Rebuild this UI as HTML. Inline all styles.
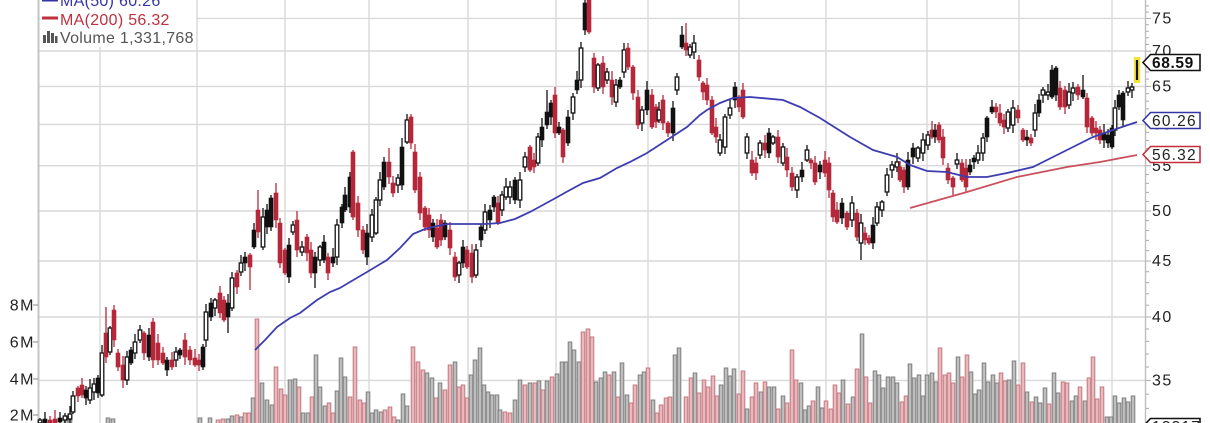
<!DOCTYPE html>
<html><head><meta charset="utf-8"><style>
html,body{margin:0;padding:0;background:#fff;}
svg{display:block;}
text{font-family:"Liberation Sans",Arial,sans-serif;}
</style></head><body>
<svg id="s" xmlns="http://www.w3.org/2000/svg" width="1210" height="423" viewBox="0 0 1210 423">
<rect x="0" y="0" width="1210" height="423" fill="#fff"/>
<g stroke="#d9d9d9" stroke-width="1.4" fill="none">
<line x1="38" y1="18.4" x2="1145" y2="18.4"/>
<line x1="38" y1="51" x2="1145" y2="51"/>
<line x1="38" y1="86.4" x2="1145" y2="86.4"/>
<line x1="38" y1="124.4" x2="1145" y2="124.4"/>
<line x1="38" y1="165.7" x2="1145" y2="165.7"/>
<line x1="38" y1="211" x2="1145" y2="211"/>
<line x1="38" y1="261" x2="1145" y2="261"/>
<line x1="38" y1="317" x2="1145" y2="317"/>
<line x1="38" y1="380.4" x2="1145" y2="380.4"/>
<line x1="100" y1="0" x2="100" y2="423"/>
<line x1="197" y1="0" x2="197" y2="423"/>
<line x1="285" y1="0" x2="285" y2="423"/>
<line x1="369" y1="0" x2="369" y2="423"/>
<line x1="468" y1="0" x2="468" y2="423"/>
<line x1="556" y1="0" x2="556" y2="423"/>
<line x1="648" y1="0" x2="648" y2="423"/>
<line x1="739" y1="0" x2="739" y2="423"/>
<line x1="826" y1="0" x2="826" y2="423"/>
<line x1="927" y1="0" x2="927" y2="423"/>
<line x1="1019" y1="0" x2="1019" y2="423"/>
<line x1="1112" y1="0" x2="1112" y2="423"/>
</g>
<line x1="38.5" y1="0" x2="38.5" y2="423" stroke="#c4c4c4" stroke-width="2"/>
<line x1="1145.5" y1="0" x2="1145.5" y2="423" stroke="#bdbdbd" stroke-width="1.4"/>
<g id="ticks" stroke="#aaa" stroke-width="1"></g>
<g id="vol"></g>
<g id="cdl"></g>
<polyline fill="none" stroke="#3d3db0" stroke-width="1.8" points="255,350 265,340 277,327 290,318 300,313 317,300 330,292 340,288 350,282 367,272 387,260 400,248 413,234 425,229 433,227 447,224 470,224 485,224 500,223 515,219 530,212 552,200 570,190 583,183 600,178 617,168 630,162 647,153 667,140 687,127 700,115 707,110 720,103 733,98 750,97 783,100 800,107 820,118 850,137 873,150 897,157 910,165 927,171 947,172 967,177 987,177 1007,173 1033,167 1053,157 1073,147 1093,137 1113,130 1137,122"/>
<polyline fill="none" stroke="#c9505c" stroke-width="1.7" points="910,208 967,192 1017,177 1067,167 1100,162 1137,155"/>
<!-- legend -->
<rect x="40" y="0" width="156" height="47" fill="#fff"/>
<rect x="42" y="-2" width="16" height="3.5" fill="#3535a8"/>
<text x="60" y="6" font-size="16" letter-spacing="0.3" fill="#3535a8">MA(50) 60.26</text>
<rect x="42" y="16.5" width="16" height="3" fill="#c0303e"/>
<text x="60" y="25" font-size="16" letter-spacing="0.3" fill="#c0303e">MA(200) 56.32</text>
<g fill="#555"><rect x="43" y="35" width="3" height="8"/><rect x="47" y="31" width="3" height="12"/><rect x="51" y="33" width="3" height="10"/><rect x="55" y="36" width="2.5" height="7"/></g>
<text x="60" y="43" font-size="16" letter-spacing="0.3" fill="#555">Volume 1,331,768</text>
<!-- price labels -->
<g font-size="16" letter-spacing="1.5" fill="#222">
<text x="1152" y="23.5">75</text>
<text x="1152" y="56">70</text>
<text x="1152" y="91.5">65</text>
<text x="1152" y="129.5">60</text>
<text x="1152" y="171">55</text>
<text x="1152" y="216">50</text>
<text x="1152" y="266">45</text>
<text x="1152" y="322">40</text>
<text x="1152" y="385.5">35</text>
</g>
<!-- volume labels -->
<g font-size="16" letter-spacing="1.5" fill="#222" text-anchor="end">
<text x="35" y="310.5">8M</text>
<text x="35" y="347.5">6M</text>
<text x="35" y="384.5">4M</text>
<text x="35" y="420.5">2M</text>
</g>
<g stroke="#888" stroke-width="1">
<line x1="33" y1="305" x2="38" y2="305"/><line x1="33" y1="342" x2="38" y2="342"/><line x1="33" y1="379" x2="38" y2="379"/><line x1="33" y1="415" x2="38" y2="415"/>
</g>
<!-- value boxes -->
<polygon points="1143,62.5 1150.5,54.5 1200,54.5 1200,70.5 1150.5,70.5" fill="#fff" stroke="#111" stroke-width="1.6"/>
<text x="1152" y="68" font-size="15.5" font-weight="bold" letter-spacing="0.6" fill="#111">68.59</text>
<polygon points="1143,120.5 1150.5,112.5 1200,112.5 1200,128.5 1150.5,128.5" fill="#fff" stroke="#3535a8" stroke-width="1.6"/>
<text x="1152" y="126" font-size="15.5" letter-spacing="1.2" fill="#222">60.26</text>
<polygon points="1143,154.5 1150.5,146.5 1200,146.5 1200,162.5 1150.5,162.5" fill="#fff" stroke="#c0303e" stroke-width="1.6"/>
<text x="1152" y="160" font-size="15.5" letter-spacing="1.2" fill="#222">56.32</text>
<polygon points="1143,426.5 1150.5,418.5 1200,418.5 1200,434 1150.5,434" fill="#fff" stroke="#111" stroke-width="1.6"/>
<text x="1152" y="432" font-size="15.5" letter-spacing="1.2" fill="#222">13317</text>
</svg>
<script>
(function(){
var NS="http://www.w3.org/2000/svg";
function el(t,a,p){var e=document.createElementNS(NS,t);for(var k in a)e.setAttribute(k,a[k]);p.appendChild(e);return e;}
var tk=document.getElementById('ticks');
for(var p=33;p<=77;p++){var y=2069.2-475*Math.log(p);el('line',{x1:1146,y1:y,x2:(p%5==0?1151:1149),y2:y},tk);}
var vg=document.getElementById('vol');
var V="55p421 66g420 70g420 108g418 113g419 200g418 210g418 218p420 223p419 228g419 232g416 237p415 241g417 245p413 249p413 253g398 257p319 262g383 267g400 272g405 276p367 281p389 285p395 290g380 295g379 299p387 303g413 308g413 312p397 316g355 320g387 325g406 329p403 333p413 337g391 341g358 345g377 350p397 355p347 360p400 364p403 368g392 372g413 376g410 381g412 385p410 390p407 394p417 398g420 403g394 407g406 413p347 418p362 423p370 427g373 432g378 436p398 440g383 445p390 450p365 455g362 459p387 463p385 467p398 471g375 475g360 480g348 484g385 488g392 492g395 497g395 500g410 505p412 510p413 515g400 520g380 525p385 530g383 535p383 539g381 543p390 547g381 552p377 557g374 562g362 566g362 570g342 574g350 579g362 583p332 588p329 592p337 596g382 601g378 605g372 609p375 614g372 618p397 622g363 627g395 631p403 635p385 640g375 644g372 648p368 653g400 657p413 661p405 666p398 670p397 675g355 679g348 686p397 691p378 695g373 699p393 704p380 708p387 713p376 717p396 721g385 726g368 730g376 734g369 739p394 743p371 747g409 752p397 756p383 761g392 765p382 769g387 774g387 778p409 783g396 787p403 792p350 796p380 801g383 805g410 809g406 813p401 818g387 822g408 826p401 831p409 835p385 839p393 843g380 848p404 853g397 857p369 862g334 866p377 870p403 875g371 879g375 883g388 888g377 893g377 897g383 902p402 906p396 910g364 914g378 919g375 923g396 927g375 932g373 936g382 940p348 945p375 949p373 953p383 958g357 962p377 967p355 971g372 975g394 979g390 984g363 988g382 993g375 997g383 1001p373 1005p381 1009g380 1014g361 1018p385 1023p363 1027g392 1032p402 1036g397 1040g403 1045g388 1049p404 1054g373 1058g393 1063p382 1067p383 1072g401 1076g396 1080p387 1085g401 1089p378 1093p357 1097p399 1102p387 1107g417 1111g417 1115g396 1119g403 1124g398 1128g402 1133g396".split(' ');
V.forEach(function(s){var m=s.match(/^(\d+)([gp])(\d+)$/);if(!m)return;var x=+m[1],t=+m[3],g=m[2]=='g';
el('rect',{x:x-1.8,y:t,width:3.6,height:428-t,fill:g?'#bebebe':'#e8babd',stroke:g?'#7e7e7e':'#c27880','stroke-width':1},vg);});
var cg=document.getElementById('cdl');
var C="40,420,423,h;45,419,423,b;50,420,423,r;55,419,423,r;60,418,422,b;65,416,420,h;70,414,419,h;73,396,412,h;78,388,396,r;82,385,395,r;86,390,398,b;90,388,400,h;94,384,392,h;98,378,393,b;102,353,395,h;106,333,357,r,307;110,328,352,h;114,310,340,r,305;118,353,367,r;123,365,380,r;127,357,380,h;131,350,363,b;135,342,353,h;140,330,340,h;144,333,353,r;149,335,357,b;153,322,360,r;158,343,360,r;163,353,363,r;167,360,370,b;172,360,367,r;176,352,360,h;180,350,355,b;185,340,357,r;190,350,360,r;195,358,365,r;199,360,365,r;203,347,367,b;206,312,340,h;211,303,317,b;215,300,308,h;220,293,313,r;224,300,320,r;228,303,317,b,,333;232,278,308,h;237,273,287,r;241,263,272,h;245,257,263,b;250,255,267,r,,290;254,230,247,b;258,210,232,r,190;263,217,247,h;267,210,227,b;271,198,227,b;276,193,220,r,183;280,223,263,r;285,250,273,r;289,245,277,b;293,225,232,h;297,220,250,r;302,247,252,h;307,237,253,r;311,250,273,r;315,257,273,b,,288;320,247,260,h;324,242,260,b;328,257,273,r;333,257,263,b;337,225,257,h;342,207,223,b;345,195,210,b;350,177,207,b;353,152,217,r;358,203,230,r;363,230,250,r;367,233,257,b;372,215,237,h;376,200,233,h;380,180,200,h;384,162,187,b;389,162,177,r,148;393,183,193,r;398,178,185,h;402,147,185,b;407,120,142,h;411,117,143,r;415,152,190,r;420,177,213,r;425,208,227,r;429,215,230,r;433,223,237,b;437,228,247,r;441,220,240,r;445,223,237,b;450,230,248,r;455,257,277,r;459,263,275,h;463,247,263,b;467,250,267,r;472,253,277,r;476,250,275,h;481,227,240,b;485,212,230,h;490,210,220,b;494,197,207,b;498,203,223,r;502,195,210,h;506,187,197,h;510,187,197,h;515,180,200,b;520,180,200,h;525,157,167,h;530,147,170,r;534,160,167,r;538,137,163,h;542,127,140,b;547,112,125,b,90;551,103,117,b;555,95,133,r;559,127,133,b;563,130,157,r;568,117,143,b;573,97,113,h;577,80,90,b;581,48,80,h;585,3,30,b,0;589,0,32,r,0;594,58,87,r;598,65,88,h;603,63,87,r;607,72,80,h;612,80,97,r;616,85,102,h;620,80,87,b;624,50,72,h,43;628,48,67,r;633,67,93,r;638,97,125,r;642,110,123,h;647,90,110,b;652,95,127,r;656,107,122,r;659,110,120,h;663,100,123,r;668,123,133,r;673,108,133,b;677,77,90,h;682,35,47,b;686,43,50,r,23;690,47,55,h;694,43,52,h;699,60,77,r;703,83,92,r;707,85,100,r;712,100,133,r;716,127,137,r;720,140,153,h;725,117,147,h;730,108,115,h;735,87,100,b,82;739,97,107,r;743,90,117,r;747,137,153,h;752,160,173,r;756,163,173,r;760,143,155,h;765,143,150,r;769,133,153,b;773,137,143,h;778,137,157,r;783,147,163,h;787,157,170,r;792,173,187,r;797,177,190,h;802,170,177,b;807,150,160,h;811,160,163,r;815,163,182,r;820,165,172,b;825,160,173,r;829,163,190,r;833,193,217,r;837,210,222,r;842,203,218,b;847,213,227,r;852,203,220,h;857,213,237,r;861,223,243,h,,260;865,233,240,r;869,238,243,r;873,225,243,b;877,207,223,h;882,202,210,h;887,175,192,h;892,165,170,h;897,162,167,h;900,167,180,r;904,170,187,r;908,160,187,b;913,148,157,b;918,148,158,h;923,140,153,h;928,135,145,h;932,130,137,r;935,130,137,b;939,125,140,r;943,137,158,r;948,168,180,r;953,178,187,r;957,160,164,h;962,163,180,r;966,168,187,r;970,165,172,b;974,158,162,b;978,153,160,h;983,138,153,h;987,118,137,b;992,107,112,b;996,107,112,r;1000,113,123,r;1004,120,127,r;1008,112,128,h;1013,108,125,h;1018,110,118,r;1023,130,140,r;1027,137,140,b;1031,138,143,r;1035,113,130,h;1039,100,113,b;1043,90,95,h;1048,92,95,h;1052,70,97,b;1056,68,95,b;1060,88,107,r;1065,90,107,r;1069,92,105,h;1073,88,93,h;1078,87,95,r;1083,90,97,b,75;1087,98,127,r;1092,118,133,r;1096,128,133,r;1100,130,140,r;1104,133,140,b;1108,135,143,b;1112,128,147,b;1115,108,130,h;1119,95,107,b;1123,93,120,b;1128,88,92,h;1132,87,90,h;1137,60,80,y".split(';');
C.forEach(function(s,i){var f=s.split(',');var x=+f[0],t=+f[1],b=+f[2],ty=f[3];
var wt=(f[4]!==undefined&&f[4]!=='')?+f[4]:t-(2+((i*37)%8));
var wb=(f[5]!==undefined&&f[5]!=='')?+f[5]:b+(2+((i*53)%7));
if(ty=='y'){el('rect',{x:x-3.2,y:t-3,width:6.4,height:b-t+6,fill:'#f3e33a'},cg);
el('rect',{x:x-1.1,y:t,width:2.2,height:b-t,fill:'#111'},cg);return;}
var col=(ty=='r')?'#b5283b':'#111';
el('line',{x1:x,y1:wt,x2:x,y2:wb,stroke:col,'stroke-width':1.3},cg);
var h=Math.max(b-t,2);
if(ty=='h'){el('rect',{x:x-1.8,y:t,width:3.6,height:h,fill:'#fff',stroke:'#111','stroke-width':1.3},cg);}
else{el('rect',{x:x-2,y:t,width:4,height:h,fill:col,stroke:col,'stroke-width':0.6},cg);}
});
})();
</script>
</body></html>
